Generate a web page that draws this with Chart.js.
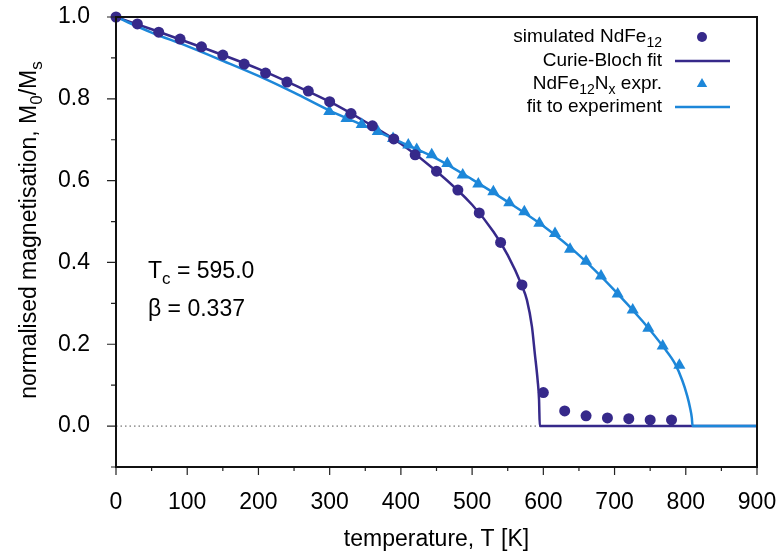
<!DOCTYPE html>
<html>
<head>
<meta charset="utf-8">
<script src="https://cdn.jsdelivr.net/npm/chart.js@4.4.1/dist/chart.umd.min.js"></script>
<style>
  body { margin: 0; background: #fff; }
  canvas { display: block; }
</style>
</head>
<body>
<canvas id="grafico" width="782" height="556"></canvas>
<script>
// simulated NdFe12 (circles)
const simTemps = [0, 30, 60, 90, 120, 150, 180, 210, 240, 270, 300, 330, 360, 390, 420, 450, 480, 510, 540, 570, 600, 630, 660, 690, 720, 750, 780];
const simMag = [1.000, 0.983, 0.963, 0.946, 0.927, 0.907, 0.885, 0.863, 0.841, 0.819, 0.793, 0.764, 0.734, 0.702, 0.663, 0.623, 0.577, 0.521, 0.449, 0.345, 0.082, 0.037, 0.025, 0.020, 0.018, 0.015, 0.015];

// Curie-Bloch fit line
const cbTemps = [0, 50, 100, 150, 200, 250, 300, 350, 400, 450, 500, 530, 550, 570, 577, 584, 588, 592, 594, 595, 900];
const cbMag = [1.000, 0.970, 0.939, 0.907, 0.873, 0.834, 0.793, 0.744, 0.690, 0.623, 0.541, 0.475, 0.418, 0.343, 0.308, 0.243, 0.178, 0.112, 0.064, 0.0, 0.0];

// NdFe12Nx experiment (triangles)
const expTemps = [299.5, 323.6, 345, 367.6, 389, 410.4, 422.2, 443.3, 465.2, 486.8, 508.7, 529.8, 552.2, 573.3, 594.4, 616.4, 637.5, 660, 681, 704.4, 725.5, 747.4, 767.6, 791];
const expMag = [0.769, 0.752, 0.737, 0.720, 0.703, 0.687, 0.676, 0.663, 0.642, 0.614, 0.592, 0.573, 0.546, 0.524, 0.496, 0.471, 0.432, 0.403, 0.367, 0.323, 0.284, 0.239, 0.196, 0.149];

// fit to experiment line
const fitTemps = [0, 50, 100, 150, 200, 250, 300, 350, 400, 450, 500, 550, 600, 650, 700, 740, 770, 785, 795, 802, 806, 808.5, 809.5, 900];
const fitMag = [1.000, 0.962, 0.929, 0.893, 0.856, 0.815, 0.771, 0.733, 0.694, 0.654, 0.603, 0.548, 0.489, 0.418, 0.332, 0.255, 0.190, 0.152, 0.112, 0.074, 0.045, 0.020, 0.0, 0.0];

const xTicks = [0, 100, 200, 300, 400, 500, 600, 700, 800, 900];
const xMinorTicks = [50, 150, 250, 350, 450, 550, 650, 750, 850];
const yTicks = [0.0, 0.2, 0.4, 0.6, 0.8, 1.0];
const yMinorTicks = [-0.1, 0.1, 0.3, 0.5, 0.7, 0.9];

const ROXO = '#36298a';
const AZUL = '#1d87d9';
const FONTE = '"Liberation Sans", Arial, Helvetica, sans-serif';

function pares(xs, ys) { return xs.map((x, i) => ({ x: x, y: ys[i] })); }

function textoRico(ctx, partes, x, y, tam, alinha) {
    const normal = tam + 'px ' + FONTE;
    const pequeno = Math.round(tam * 0.72) + 'px ' + FONTE;
    let largura = 0;
    partes.forEach(p => { ctx.font = p.sub ? pequeno : normal; largura += ctx.measureText(p.t).width; });
    let cx = alinha === 'right' ? x - largura : (alinha === 'center' ? x - largura / 2 : x);
    ctx.textAlign = 'left';
    ctx.textBaseline = 'middle';
    partes.forEach(p => {
        ctx.font = p.sub ? pequeno : normal;
        ctx.fillText(p.t, cx, p.sub ? y + tam * 0.3 : y);
        cx += ctx.measureText(p.t).width;
    });
}

const extras = {
    id: 'extras',
    afterDraw(chart) {
        const ctx = chart.ctx;
        const a = chart.chartArea;
        const sx = chart.scales.x, sy = chart.scales.y;
        ctx.save();

        // tick marks
        ctx.strokeStyle = '#222';
        ctx.lineWidth = 1.2;
        ctx.beginPath();
        xTicks.forEach(v => { const p = sx.getPixelForValue(v); ctx.moveTo(p, a.bottom); ctx.lineTo(p, a.bottom + 8); });
        xMinorTicks.forEach(v => { const p = sx.getPixelForValue(v); ctx.moveTo(p, a.bottom); ctx.lineTo(p, a.bottom + 4); });
        yTicks.forEach(v => { const p = sy.getPixelForValue(v); ctx.moveTo(a.left, p); ctx.lineTo(a.left - 9, p); });
        yMinorTicks.forEach(v => { const p = sy.getPixelForValue(v); ctx.moveTo(a.left, p); ctx.lineTo(a.left - 5, p); });
        ctx.stroke();

        // frame
        ctx.strokeStyle = '#111';
        ctx.lineWidth = 2;
        ctx.strokeRect(a.left, a.top, a.right - a.left, a.bottom - a.top);

        ctx.fillStyle = '#000';

        // axis titles
        textoRico(ctx, [{ t: 'temperature, T [K]' }], (a.left + a.right) / 2, 540, 23, 'center');
        ctx.save();
        ctx.translate(30, 230);
        ctx.rotate(-Math.PI / 2);
        textoRico(ctx, [{ t: 'normalised magnetisation, M' }, { t: '0', sub: true }, { t: '/M' }, { t: 's', sub: true }], 0, 0, 23, 'center');
        ctx.restore();

        // annotation
        textoRico(ctx, [{ t: 'T' }, { t: 'c', sub: true }, { t: ' = 595.0' }], 148, 272, 23, 'left');
        textoRico(ctx, [{ t: 'β = 0.337' }], 148, 310, 23, 'left');

        // legend
        const linhas = [
            { partes: [{ t: 'simulated NdFe' }, { t: '12', sub: true }], tipo: 'circulo', cor: ROXO },
            { partes: [{ t: 'Curie-Bloch fit' }], tipo: 'linha', cor: ROXO },
            { partes: [{ t: 'NdFe' }, { t: '12', sub: true }, { t: 'N' }, { t: 'x', sub: true }, { t: ' expr.' }], tipo: 'triangulo', cor: AZUL },
            { partes: [{ t: 'fit to experiment' }], tipo: 'linha', cor: AZUL }
        ];
        const ys = [37, 61, 84, 107];
        linhas.forEach((l, i) => {
            ctx.fillStyle = '#000';
            textoRico(ctx, l.partes, 662, ys[i], 19, 'right');
            ctx.fillStyle = l.cor;
            ctx.strokeStyle = l.cor;
            if (l.tipo === 'linha') {
                ctx.lineWidth = 2.5;
                ctx.beginPath(); ctx.moveTo(675, ys[i]); ctx.lineTo(730, ys[i]); ctx.stroke();
            } else if (l.tipo === 'circulo') {
                ctx.beginPath(); ctx.arc(702, ys[i], 5, 0, Math.PI * 2); ctx.fill();
            } else {
                const r = 6;
                ctx.beginPath();
                for (let k = 0; k < 3; k++) {
                    const ang = k * 2 * Math.PI / 3;
                    const px = 702 + Math.sin(ang) * r, py = ys[i] - Math.cos(ang) * r;
                    if (k === 0) ctx.moveTo(px, py); else ctx.lineTo(px, py);
                }
                ctx.closePath(); ctx.fill();
            }
        });

        ctx.restore();
    }
};

const fonteTicks = { family: FONTE, size: 23 };

new Chart(document.getElementById('grafico'), {
    type: 'scatter',
    data: {
        datasets: [
            { label: 'simulated NdFe12', data: pares(simTemps, simMag), pointStyle: 'circle', pointRadius: 5.5, pointBorderWidth: 0, backgroundColor: ROXO, borderColor: ROXO, clip: false, order: 1 },
            { label: 'NdFe12Nx expr.', data: pares(expTemps, expMag), pointStyle: 'triangle', pointRadius: 7, pointBorderWidth: 0, backgroundColor: AZUL, borderColor: AZUL, clip: false, order: 2 },
            { label: 'fit to experiment', data: pares(fitTemps, fitMag), showLine: true, pointRadius: 0, borderColor: AZUL, borderWidth: 2.5, cubicInterpolationMode: 'monotone', order: 3 },
            { label: 'Curie-Bloch fit', data: pares(cbTemps, cbMag), showLine: true, pointRadius: 0, borderColor: ROXO, borderWidth: 2.5, cubicInterpolationMode: 'monotone', order: 4 },
            { label: 'zero', data: pares([0, 900], [0, 0]), showLine: true, pointRadius: 0, borderColor: '#555', borderWidth: 1, borderDash: [1.5, 3], order: 5 }
        ]
    },
    options: {
        responsive: false,
        animation: false,
        layout: { padding: { top: 17, right: 25, left: 0, bottom: 0 } },
        plugins: { legend: { display: false }, tooltip: { enabled: false } },
        scales: {
            x: {
                type: 'linear', min: 0, max: 900,
                afterFit: s => { s.height = 89; s.paddingLeft = 0; s.paddingRight = 0; },
                afterBuildTicks: s => { s.ticks = xTicks.map(v => ({ value: v })); },
                grid: { display: false, drawTicks: false },
                border: { display: false },
                ticks: { padding: 22, font: fonteTicks, color: '#000', maxRotation: 0, autoSkip: false, callback: v => String(v) }
            },
            y: {
                type: 'linear', min: -0.1, max: 1.0,
                afterFit: s => { s.width = 116; s.paddingTop = 0; s.paddingBottom = 0; },
                afterBuildTicks: s => { s.ticks = yTicks.map(v => ({ value: v })); },
                grid: { display: false, drawTicks: false },
                border: { display: false },
                ticks: { padding: 26, font: fonteTicks, color: '#000', autoSkip: false, callback: v => v.toFixed(1) }
            }
        }
    },
    plugins: [extras]
});
</script>
</body>
</html>
